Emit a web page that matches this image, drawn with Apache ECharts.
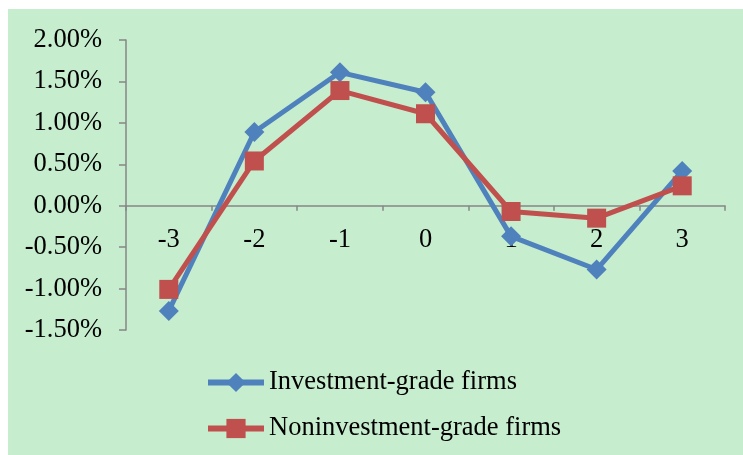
<!DOCTYPE html>
<html>
<head>
<meta charset="utf-8">
<script src="https://cdn.jsdelivr.net/npm/echarts@6/dist/echarts.min.js"></script>
<style>
html,body{margin:0;padding:0;background:#fff;}
#chart{width:743px;height:455px;}
</style>
</head>
<body>
<div id="chart"></div>
<script>
var categories = ['-3', '-2', '-1', '0', '1', '2', '3'];
var investmentGrade = [-1.27, 0.89, 1.61, 1.37, -0.37, -0.77, 0.42];
var noninvestmentGrade = [-1.01, 0.54, 1.39, 1.11, -0.07, -0.15, 0.24];
var seriesNames = ['Investment-grade firms', 'Noninvestment-grade firms'];

var FONT = '"Liberation Serif", "Times New Roman", serif';
var chart = echarts.init(document.getElementById('chart'));
chart.setOption({
  animation: false,
  backgroundColor: '#ffffff',
  graphic: [{
    type: 'rect', z: -10, silent: true,
    shape: {x: 8, y: 9, width: 735, height: 446},
    style: {fill: '#C6EDCD'}
  }],
  grid: {left: 126, right: 18, top: 40, bottom: 125, containLabel: false},
  legend: {
    orient: 'vertical',
    left: 200, top: 364,
    itemWidth: 56, itemHeight: 24, itemGap: 19,
    lineStyle: {width: 6},
    textStyle: {fontFamily: FONT, fontSize: 26.5, color: '#000'},
    data: seriesNames
  },
  xAxis: {
    type: 'category',
    data: categories,
    boundaryGap: true,
    axisLine: {show: true, onZero: true, lineStyle: {color: '#868686', width: 1.5}},
    axisTick: {show: true, length: 5, lineStyle: {color: '#868686', width: 1.5}},
    axisLabel: {fontFamily: FONT, fontSize: 26.5, color: '#000', margin: -103}
  },
  yAxis: {
    type: 'value',
    min: -1.5, max: 2, interval: 0.5,
    axisLine: {show: true, lineStyle: {color: '#868686', width: 1.5}},
    axisTick: {show: true, length: 7, lineStyle: {color: '#868686', width: 1.5}},
    splitLine: {show: false},
    axisLabel: {fontFamily: FONT, fontSize: 26.5, color: '#000', margin: 24,
      formatter: function (v) { return v.toFixed(2) + '%'; }}
  },
  series: [{
    name: seriesNames[0], type: 'line', data: investmentGrade,
    symbol: 'diamond', symbolSize: 20,
    lineStyle: {color: '#4F81BD', width: 5},
    itemStyle: {color: '#4F81BD'}
  }, {
    name: seriesNames[1], type: 'line', data: noninvestmentGrade,
    symbol: 'rect', symbolSize: 19,
    lineStyle: {color: '#C0504D', width: 5},
    itemStyle: {color: '#C0504D'}
  }]
});
</script>
</body>
</html>
